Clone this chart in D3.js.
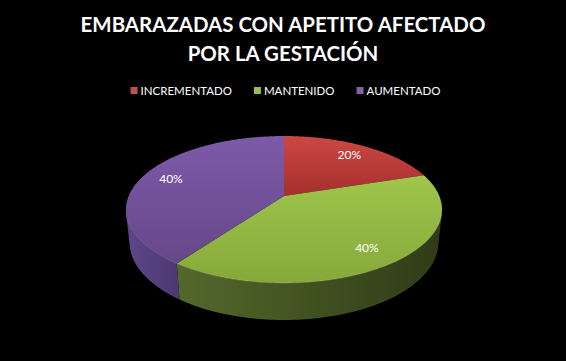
<!DOCTYPE html>
<html><head><meta charset="utf-8">
<script src="https://cdn.jsdelivr.net/npm/d3@7"></script>
<style>html,body{margin:0;padding:0;background:#000;}svg{display:block;}</style>
</head><body>
<script>
const titleLines = ["EMBARAZADAS CON APETITO AFECTADO", "POR LA GESTACIÓN"];
const categories = ["INCREMENTADO", "MANTENIDO", "AUMENTADO"];
const values = [20, 40, 40];
const labels = ["20%", "40%", "40%"];
const topLight = ["#cc4744", "#a0c64c", "#7d5aa9"];
const topDark  = ["#a52f2d", "#86a83a", "#664889"];
const sideLight = ["#7a2220", "#53682b", "#5e4689"];
const sideDark  = ["#5a1817", "#2f3c17", "#4c3872"];
const legendColors = ["#c0504d", "#9bbb59", "#8064a2"];

const W = 566, H = 361;
const svg = d3.select("body").append("svg").attr("width", W).attr("height", H);
svg.append("rect").attr("width", W).attr("height", H).attr("fill", "#000");
const defs = svg.append("defs");

// 3D projection of a unit pie
const cx = 284, cy0 = 196, k = 751.8, alpha = 27.2 * Math.PI / 180, Dist = 4.84, depthH = 0.239;
const sa = Math.sin(alpha), ca = Math.cos(alpha);
function proj(theta, Y, r = 1) {
  const X = r * Math.sin(theta), Z = -r * Math.cos(theta);
  const yUp = Y * ca - Z * sa;
  const dep = Dist - (Y * sa + Z * ca);
  return [cx + k * X / dep, cy0 - k * yUp / dep];
}
const visMin = Math.acos(-1 / (Dist * ca)), visMax = 2 * Math.PI - visMin;

const pie = d3.pie().sort(null).value(d => d);
const arcs = pie(values);
const line = d3.line();

function arcPts(a0, a1, Y) {
  const n = Math.max(2, Math.ceil((a1 - a0) / 0.01));
  return d3.range(n + 1).map(i => proj(a0 + (a1 - a0) * i / n, Y));
}

// walls
arcs.forEach((a, i) => {
  const g = defs.append("linearGradient").attr("id", "side" + i).attr("x1", 0).attr("x2", 1).attr("y1", 0).attr("y2", 0);
  g.append("stop").attr("offset", 0).attr("stop-color", sideLight[i]);
  g.append("stop").attr("offset", 1).attr("stop-color", sideDark[i]);
  const a0 = Math.max(a.startAngle, visMin), a1 = Math.min(a.endAngle, visMax);
  if (a1 <= a0) return;
  const topP = arcPts(a0, a1, 0), botP = arcPts(a0, a1, -depthH).reverse();
  svg.append("path").attr("d", line(topP.concat(botP)) + "Z").attr("fill", `url(#side${i})`);
});

// top faces
arcs.forEach((a, i) => {
  const g = defs.append("linearGradient").attr("id", "top" + i).attr("x1", 0).attr("x2", 0).attr("y1", 0).attr("y2", 1);
  g.append("stop").attr("offset", 0).attr("stop-color", topLight[i]);
  g.append("stop").attr("offset", 1).attr("stop-color", topDark[i]);
  const pts = [proj(0, 0, 0)].concat(arcPts(a.startAngle, a.endAngle, 0));
  svg.append("path").attr("d", line(pts) + "Z").attr("fill", `url(#top${i})`);
});
// front rim highlight
{
  const pts = arcPts(visMin, visMax, 0);
  svg.append("path").attr("d", line(pts)).attr("fill", "none").attr("stroke", "#ffffff").attr("stroke-opacity", 0.18).attr("stroke-width", 1);
}

// labels
arcs.forEach((a, i) => {
  const m = (a.startAngle + a.endAngle) / 2;
  const p = proj(m, 0, 0.8);
  svg.append("text").attr("x", p[0]).attr("y", p[1]).attr("dy", "0.35em")
    .attr("text-anchor", "middle").attr("fill", "#fff")
    .attr("font-family", "Lato, 'Open Sans', sans-serif").attr("font-size", 12)
    .text(labels[i]);
});

// title
const title = svg.append("g");
titleLines.forEach((t, i) => {
  title.append("text").attr("x", 283).attr("y", 32 + i * 29).attr("text-anchor", "middle")
    .attr("fill", "#fff").attr("font-family", "Lato, sans-serif").attr("font-weight", "bold")
    .attr("font-size", 20).text(t);
});
{
  const t0 = title.select("text").node();
  const w = t0.getComputedTextLength();
  const fs = 20 * 405 / w;
  title.selectAll("text").attr("font-size", fs);
}

// legend
const leg = svg.append("g");
const items = categories.map((c, i) => {
  const g = leg.append("g");
  g.append("rect").attr("x", 0).attr("y", -4).attr("width", 7).attr("height", 7).attr("fill", legendColors[i]);
  const t = g.append("text").attr("x", 10).attr("y", 0).attr("dy", "0.35em").attr("fill", "#fff")
    .attr("font-family", "Lato, sans-serif").attr("font-size", 11.5).text(c);
  return { g, w: 10 + t.node().getComputedTextLength() };
});
const gap = 22;
const total = d3.sum(items, d => d.w) + gap * (items.length - 1);
let xx = 285.5 - total / 2;
items.forEach(it => { it.g.attr("transform", `translate(${xx},91)`); xx += it.w + gap; });
</script>
</body></html>
